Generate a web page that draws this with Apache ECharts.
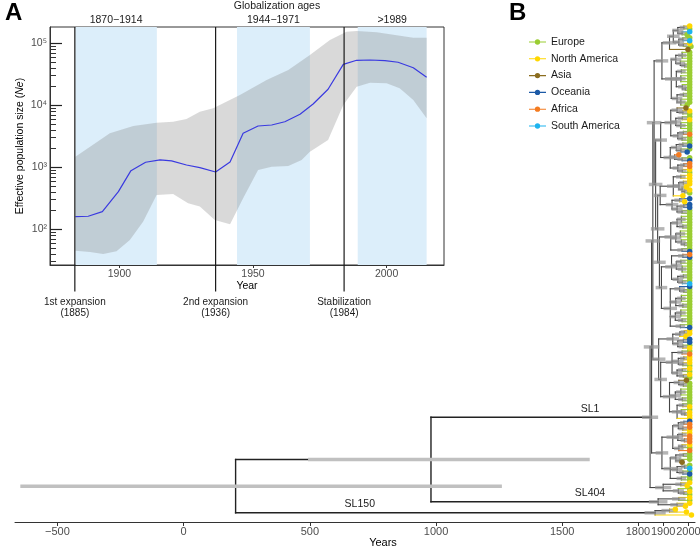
<!DOCTYPE html>
<html><head><meta charset="utf-8">
<script src="https://cdn.jsdelivr.net/npm/echarts@6/dist/echarts.min.js"></script>
<style>html,body{margin:0;padding:0;background:#fff}#c{width:700px;height:549px}</style>
</head><body><div id="c"></div>
<script>
const FONT = "'Liberation Sans', Arial, Helvetica, sans-serif";

// ---------- Panel A data ----------
const medianYears = [1883.5,1888.3,1893.6,1899.6,1904.3,1909.8,1915.2,1919.5,1925.1,1930.1,1936.0,1941.4,1946.3,1951.9,1957.0,1961.9,1967.6,1972.5,1978.1,1983.8,1988.8,1993.8,1999.4,2004.3,2010.0,2015.0];
const medianNe = [160,162,192,404,881,1205,1312,1265,1089,986,839,1216,3532,4634,4808,5433,7161,10495,18113,45814,53211,53827,52360,49431,40365,28314];
const upperYears = [1883.5,1889.0,1896.4,1905.2,1913.9,1920.1,1925.1,1930.1,1935.1,1945.1,1955.1,1963.2,1971.3,1978.8,1985.0,1988.8,1996.3,2010.0,2015.0];
const upperNe = [1483,2148,3532,4634,5236,5433,6012,7889,8954,14655,25586,37068,64714,112980,153815,157761,150314,123027,123027];
const lowerYears = [1883.5,1889.0,1893.9,1898.9,1903.9,1908.9,1913.9,1920.1,1925.7,1930.1,1935.7,1941.4,1946.3,1951.9,1957.0,1963.2,1968.2,1971.3,1978.1,1983.8,1988.8,1993.8,2000.0,2004.9,2010.0,2015.0];
const lowerNe = [45,43,40,44,67,133,357,371,262,232,141,120,316,904,1023,1050,1312,1786,2754,10116,19953,23174,22646,18793,12162,6166];
const bandRanges = [[1883.5,1914],[1944,1971.3],[1989.2,2015]];
const bandLabels = ['1870\u22121914','1944\u22121971','>1989'];
const eventYears = [1883.3,1936.0,1984.1];
const eventLabels = ['1st expansion\n(1885)','2nd expansion\n(1936)','Stabilization\n(1984)'];
const neTicks = [100,1000,10000,100000];
const neMinorTicks = [30,40,50,60,70,80,90,200,300,400,500,600,700,800,900,2000,3000,4000,5000,6000,7000,8000,9000,20000,30000,40000,50000,60000,70000,80000,90000];
const yearTicksA = [1900,1950,2000];

// ---------- Panel B data ----------
const regions = ['Europe','North America','Asia','Oceania','Africa','South America'];
const regionCodes = ['E','N','A','O','F','S'];
const regionColors = ['#9acd32','#ffd700','#8b6d1f','#1c5aa6','#f47b20','#1eb4ef'];
const defaultTipYear = 2005;
const yearTicksB = [-500,0,500,1000,1500,1800,1900,2000];
const cladeNames = ['SL1','SL404','SL150'];
const cladeLabelYears = [1610,1610,698];

const C1 = "((((N,E)1982~10,(S,E:1995)1975~12)1958~15,((E,S)1978~10,(N,E:2010)1980~10)1962~14)1940~18,A:1998)1925~20";
const C2 = "(((E,E,E)1975~10,(E,(E,E)1985~8)1968~12)1950~15,((E,E)1972~10,(E,E,E)1970~12,(E,(E,E)1988~8)1976~10)1952~15,((E,E)1980~8,(E,E,E:1995)1970~12)1955~14)1932~18";
const C3 = "((A:1990,(N,E)1978~10)1955~15,((E,N)1976~12,(E,E,E)1970~12)1950~15,((E,F)1980~10,(E,E)1975~10)1958~14)1930~18";
const C4 = "(((E,O)1978~10,(E,O:1995)1970~12)1952~15,(F:1962,(E,O)1975~12)1945~16,((F,F)1982~8,(N,E)1976~10)1958~14)1928~20";
const C5 = "((N,N)1970~12,((N,N)1980~10,(N:1992,(N,E)1985~8)1975~10)1962~14,N:1978)1940~18";
const C6 = "((O,N:1985)1965~14,((O,O)1982~10,(E,E)1975~12)1955~15)1935~18";
const C7 = "(((E,E,E)1972~10,(E,E)1978~10)1955~14,((E,E,E)1968~12,(E,(E,E)1984~8)1972~10)1950~15,(E,O)1975~12)1930~18";
const C8 = "((F,O)1978~12,((E,E)1970~12,(E,E,E)1975~10)1952~15,((E,E)1980~8,(E,S)1976~10)1958~14)1933~18";
const C9 = "((O,(E,E)1982~8)1965~14,((E,E,E)1972~10,(E,E)1978~10)1950~15,((E,E,E)1970~12,(E,E)1975~10)1948~15,(E,O)1968~12)1928~20";
const C10 = "(((N,N)1984~8,N:1990)1966~12,((O,O)1980~10,(E,N)1978~10)1958~14)1938~18";
const C11 = "((E,F)1975~12,((N,N)1982~8,(N,E)1978~10)1960~14,((N,E)1976~10,(N,E)1980~10)1955~14)1935~18";
const C12 = "((A:1992,(E,E)1980~8)1962~14,((E,E,E)1970~12,(E,E)1976~10)1948~15,((E,N)1978~10,(E,(N,N)1986~8)1972~10,N)1955~14)1925~20";
const C13 = "(((O,F)1982~8,(F,N)1978~10)1960~14,((N,F)1976~10,(F,F)1984~8)1958~14,((N,E)1975~10,F)1962~12)1938~18";
const C14 = "(((E,E)1980~10,(E,A:1975)1965~12)1950~15,((E,S)1985~8,(E,O)1978~10)1955~14,(E,E)1972~12)1928~20";
const C15 = "((N,N:1995)1970~15,(E,(N,E)1982~10)1960~15)1900~25";
const SL404 = "((N,E)1962~20,(N,N:1988)1955~20)1880~30";
const SL150 = "((N:1948,N:1992)1925~25,N:2012)1868~35";

const L3 = "((" + C1 + "," + C2 + ")1895~18,((" + C3 + "," + C4 + ")1890~18,((" + C5 + "," + C6 + ")1888~18,(" + C7 + ",(" + C8 + "," + C9 + ")1893~16)1885~18)1878~20)1870~20)1864~22";
const L2 = "(" + L3 + ",(" + C10 + ",(" + C11 + "," + C12 + ")1890~18)1882~20)1859~22";
const L1 = "(" + L2 + ",(" + C13 + "," + C14 + ")1895~18)1854~24";
const SL1 = "(" + L1 + "," + C15 + ")1848~25";
const TREE = "((" + SL1 + "," + SL404 + ")980[500,1602]," + SL150 + ")206[-640,1254]";

// ---------- tree parsing / layout ----------
function parseTree(str) {
  const s = str.replace(/\s+/g, '');
  let i = 0;
  function num() {
    const m = /^-?\d+(\.\d+)?/.exec(s.slice(i));
    i += m[0].length; return parseFloat(m[0]);
  }
  function node() {
    if (s[i] === '(') {
      i++;
      const kids = [node()];
      while (s[i] === ',') { i++; kids.push(node()); }
      i++;
      const n = { kids: kids, age: num() };
      if (s[i] === '~') { i++; const h = num(); n.lo = n.age - h; n.hi = n.age + h; }
      else if (s[i] === '[') { i++; n.lo = num(); i++; n.hi = num(); i++; }
      return n;
    }
    const n = { region: regionCodes.indexOf(s[i++]), age: defaultTipYear };
    if (s[i] === ':') { i++; n.age = num(); }
    return n;
  }
  return node();
}
const root = parseTree(TREE);
let leafCount = 0;
(function layout(n) {
  if (!n.kids) { n.y = leafCount++; return; }
  n.kids.forEach(layout);
  n.y = n.kids.reduce((a, k) => a + k.y, 0) / n.kids.length;
})(root);

const branchData = [], hpdData = [], tipData = regions.map(() => []);
(function collect(n) {
  if (!n.kids) { tipData[n.region].push([n.age, n.y]); return; }
  const ys = n.kids.map(k => k.y);
  const deep = n.age < 1800;
  const dark = deep ? '#222' : '#444';
  const w = deep ? 1.4 : 1.1;
  branchData.push({ value: [n.age, Math.min(...ys), n.age, Math.max(...ys), w], itemStyle: { color: dark } });
  n.kids.forEach(k => {
    const col = k.kids ? dark : regionColors[k.region];
    branchData.push({ value: [n.age, k.y, k.age, k.y, w], itemStyle: { color: col } });
    collect(k);
  });
  if (n.lo !== undefined) {
    hpdData.push({ value: [n.lo, n.y, n.hi, n.y, 3.5], itemStyle: { color: (n.hi - n.lo > 200) ? '#c0c0c0' : 'rgba(150,150,150,0.7)' } });
  }
})(root);
const cladeNodes = [root.kids[0].kids[0], root.kids[0].kids[1], root.kids[1]];

// tree vertical mapping: first tip at y=26px, last at 515px (grid top 20, bottom 522)
const pxPer = (515 - 26) / (leafCount - 1);
const treeYMin = -(26 - 20) / pxPer;
const treeYMax = (leafCount - 1) + (522 - 515) / pxPer;

const lg = Math.log10;
const sup = { 2: '\u00b2', 3: '\u00b3', 4: '\u2074', 5: '\u2075' };

function lineItem(params, api) {
  const p1 = api.coord([api.value(0), api.value(1)]);
  const p2 = api.coord([api.value(2), api.value(3)]);
  return { type: 'line', shape: { x1: p1[0], y1: p1[1], x2: p2[0], y2: p2[1] },
    style: { stroke: api.visual('color'), lineWidth: api.value(4), lineCap: 'square' } };
}

const chart = echarts.init(document.getElementById('c'), null, { renderer: 'canvas' });
const option = {
  animation: false,
  backgroundColor: '#fff',
  textStyle: { fontFamily: FONT },
  title: [
    { text: 'A', left: 5, top: 1, padding: 0, textStyle: { fontSize: 24, fontWeight: 'bold', color: '#000', fontFamily: FONT } },
    { text: 'B', left: 509, top: 1, padding: 0, textStyle: { fontSize: 24, fontWeight: 'bold', color: '#000', fontFamily: FONT } },
    { text: 'Globalization ages', left: 277, top: 1, padding: 0, textAlign: 'center', textStyle: { fontSize: 10.5, fontWeight: 'normal', color: '#1a1a1a', fontFamily: FONT } }
  ],
  legend: {
    orient: 'vertical', left: 529, top: 35, padding: 0, itemWidth: 17, itemHeight: 7, itemGap: 2.8,
    icon: 'path://M0,3h18v1.2h-18z M9,0.8a2.8,2.8 0 1,1 -0.001,0z',
    textStyle: { fontSize: 10.5, color: '#1a1a1a', fontFamily: FONT, lineHeight: 14 },
    data: regions
  },
  grid: [
    { left: 50, top: 27, width: 394, height: 238, show: true, borderColor: '#333', borderWidth: 1, backgroundColor: 'transparent', outerBoundsMode: 'none', containLabel: false },
    { left: 15, right: 5, top: 20, bottom: 27, outerBoundsMode: 'none', containLabel: false }
  ],
  xAxis: [
    { type: 'value', gridIndex: 0, min: 1874, max: 2021.5, position: 'bottom',
      axisLine: { show: true, onZero: false, lineStyle: { color: '#333', width: 1 } },
      axisTick: { show: true, length: 3, customValues: yearTicksA, lineStyle: { color: '#333' } },
      axisLabel: { customValues: yearTicksA, color: '#4d4d4d', fontSize: 10.5, margin: 4, fontFamily: FONT,
        formatter: v => String(v) },
      splitLine: { show: false },
      name: 'Year', nameLocation: 'middle', nameGap: 16, nameMoveOverlap: false,
      nameTextStyle: { fontSize: 10.5, color: '#000', fontFamily: FONT } },
    { type: 'value', gridIndex: 1, min: -668, max: 2026, position: 'bottom',
      axisLine: { show: true, onZero: false, lineStyle: { color: '#333', width: 1 } },
      axisTick: { show: true, length: 4, customValues: yearTicksB, lineStyle: { color: '#333' } },
      axisLabel: { customValues: yearTicksB, color: '#4d4d4d', fontSize: 11, margin: 4, fontFamily: FONT,
        formatter: v => String(v).replace('-', '\u2212') },
      splitLine: { show: false },
      name: 'Years', nameLocation: 'middle', nameGap: 15, nameMoveOverlap: false,
      nameTextStyle: { fontSize: 11, color: '#000', fontFamily: FONT, padding: [0, 0, 0, 56] } }
  ],
  yAxis: [
    { type: 'value', gridIndex: 0, min: lg(26.5), max: 5.263, position: 'left',
      axisLine: { show: true, onZero: false, lineStyle: { color: '#333', width: 1 } },
      axisTick: { show: true, inside: true, length: 12, customValues: neTicks.map(lg), lineStyle: { color: '#222', width: 1.2 } },
      axisLabel: { customValues: neTicks.map(lg), color: '#4d4d4d', fontSize: 10.5, margin: 3, fontFamily: FONT,
        formatter: v => '10' + sup[Math.round(v)] },
      splitLine: { show: false },
      name: 'Effective population size ({i|Ne})', nameLocation: 'middle', nameGap: 24, nameRotate: 90, nameMoveOverlap: false,
      nameTextStyle: { fontSize: 10.5, color: '#000', fontFamily: FONT, rich: { i: { fontStyle: 'italic', fontSize: 10.5, fontFamily: FONT, color: '#000' } } } },
    { type: 'value', gridIndex: 0, min: lg(26.5), max: 5.263, position: 'left', offset: 0,
      axisLine: { show: false, onZero: false },
      axisTick: { show: true, inside: true, length: 6, customValues: neMinorTicks.map(lg), lineStyle: { color: '#333', width: 1 } },
      axisLabel: { show: false }, splitLine: { show: false } },
    { type: 'value', gridIndex: 1, min: treeYMin, max: treeYMax, inverse: true, show: false, splitLine: { show: false } }
  ],
  series: [
    { type: 'custom', name: 'bands', xAxisIndex: 0, yAxisIndex: 0, z: 1, silent: true,
      data: bandRanges.map(r => [r[0], r[1]]),
      renderItem: function (params, api) {
        const cs = params.coordSys;
        const x1 = api.coord([api.value(0), 3])[0];
        const x2 = api.coord([api.value(1), 3])[0];
        return { type: 'group', children: [
          { type: 'rect', shape: { x: x1, y: cs.y, width: x2 - x1, height: cs.height }, style: { fill: '#dceefa' } },
          { type: 'text', style: { text: bandLabels[params.dataIndex], x: (x1 + x2) / 2, y: cs.y - 1,
            align: 'center', verticalAlign: 'bottom', textAlign: 'center', textVerticalAlign: 'bottom',
            fontSize: 10.5, fontFamily: FONT, fill: '#1a1a1a' } }
        ] };
      } },
    { type: 'custom', name: 'hpdA', xAxisIndex: 0, yAxisIndex: 0, z: 2, silent: true,
      data: [[upperYears[0], lg(upperNe[0])]],
      renderItem: function (params, api) {
        const pts = upperYears.map((y, i) => api.coord([y, lg(upperNe[i])]));
        for (let i = lowerYears.length - 1; i >= 0; i--) pts.push(api.coord([lowerYears[i], lg(lowerNe[i])]));
        return { type: 'polygon', shape: { points: pts }, style: { fill: 'rgba(128,128,128,0.3)' } };
      } },
    { type: 'line', name: 'median', xAxisIndex: 0, yAxisIndex: 0, z: 3, silent: true,
      data: medianYears.map((y, i) => [y, lg(medianNe[i])]),
      showSymbol: false, symbol: 'none', lineStyle: { color: '#3a3ae0', width: 1.2 } },
    { type: 'custom', name: 'events', xAxisIndex: 0, yAxisIndex: 0, z: 4, silent: true,
      data: eventYears.map(y => [y, 3]),
      renderItem: function (params, api) {
        const cs = params.coordSys;
        const x = api.coord([api.value(0), 3])[0];
        return { type: 'group', children: [
          { type: 'line', shape: { x1: x, y1: cs.y, x2: x, y2: cs.y + cs.height + 26.5 }, style: { stroke: '#1a1a1a', lineWidth: 1.2 } },
          { type: 'text', style: { text: eventLabels[params.dataIndex], x: x, y: cs.y + cs.height + 31,
            align: 'center', verticalAlign: 'top', textAlign: 'center', textVerticalAlign: 'top', lineHeight: 11.5,
            fontSize: 10, fontFamily: FONT, fill: '#1a1a1a' } }
        ] };
      } },
    { type: 'custom', name: 'branches', xAxisIndex: 1, yAxisIndex: 2, z: 5, silent: true,
      data: branchData, renderItem: lineItem },
    { type: 'custom', name: 'hpd', xAxisIndex: 1, yAxisIndex: 2, z: 6, silent: true,
      data: hpdData, renderItem: lineItem },
    ...regions.map((r, i) => ({
      type: 'scatter', name: r, xAxisIndex: 1, yAxisIndex: 2, z: 7, silent: true,
      data: tipData[i], symbolSize: 5.5, itemStyle: { color: regionColors[i], opacity: 1 }
    })),
    { type: 'custom', name: 'cladeLabels', xAxisIndex: 1, yAxisIndex: 2, z: 8, silent: true,
      data: cladeNodes.map((n, i) => [cladeLabelYears[i], n.y]),
      renderItem: function (params, api) {
        const p = api.coord([api.value(0), api.value(1)]);
        return { type: 'text', style: { text: cladeNames[params.dataIndex], x: p[0], y: p[1] - 3,
          align: 'center', verticalAlign: 'bottom', textAlign: 'center', textVerticalAlign: 'bottom',
          fontSize: 10.5, fontFamily: FONT, fill: '#1a1a1a' } };
      } }
  ]
};
chart.setOption(option);
</script>
</body></html>
